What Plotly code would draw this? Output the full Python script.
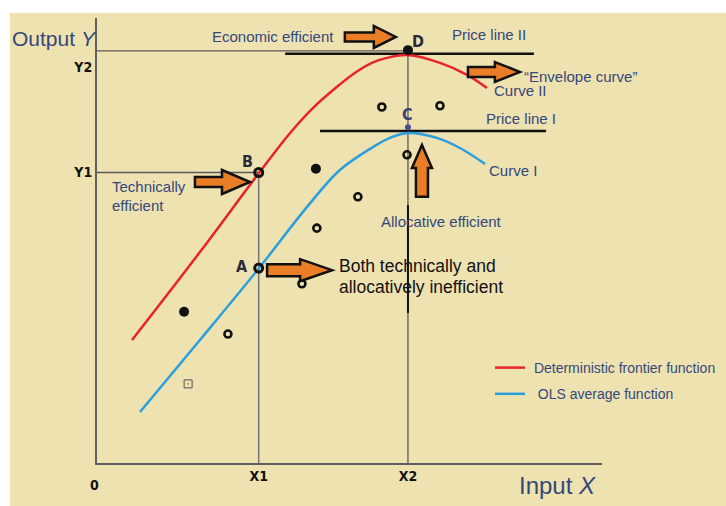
import plotly.graph_objects as go

# ---------------- data (conceptual units) ----------------
X_MAX, Y_MAX = 16.24, 10.8
X1, X2 = 5.2, 10.0
Y1, Y2 = 7.05, 10.0

x_tick_vals = [X1, X2]
x_tick_text = ["X1", "X2"]
y_tick_vals = [Y1, 9.62]
y_tick_text = ["Y1", "Y2"]

frontier_x = [1.126, 3.31, 5.2, 6.21, 6.95, 7.72, 8.30, 8.84, 9.42, 10.0, 11.03, 11.9, 12.54]
frontier_y = [2.985, 5.12, 7.03, 8.01, 8.62, 9.13, 9.47, 9.71, 9.85, 9.90, 9.71, 9.42, 9.10]

ols_x = [1.383, 3.31, 5.2, 6.75, 7.81, 8.88, 9.42, 10.0, 10.93, 11.67, 12.48]
ols_y = [1.238, 2.985, 4.72, 6.21, 7.11, 7.67, 7.89, 8.01, 7.89, 7.645, 7.257]

open_x = [4.21, 6.59, 7.07, 8.39, 9.16, 11.03, 9.97]
open_y = [3.13, 4.35, 5.70, 6.46, 8.64, 8.67, 7.48]
filled_x = [2.80, 7.04]
filled_y = [3.67, 7.14]
odd_x = [2.93]
odd_y = [1.92]

point_A = (X1, 4.73)
point_B = (X1, Y1)
point_C = (X2, 8.15)
point_D = (X2, 10.02)

price_I_x, price_I_y = [7.17, 14.44], 8.06
price_II_x, price_II_y = [6.05, 14.05], 9.93

# arrows: (tail, tip, position)
arrow_econ = (7.97, 9.61, 10.34)
arrow_env = (11.93, 13.60, 9.49)
arrow_tech = (3.15, 4.92, 6.82)
arrow_A = (5.47, 7.56, 4.68)
arrow_up = (6.46, 7.72, 10.45)

# ---------------- layout constants ----------------
OFF = 0                      # body margin removed by post_script
W, H = 726, 506
M_L, M_R, M_T, M_B = 97, 124, 18, 43
PW, PH = W - M_L - M_R, H - M_T - M_B
UX, UY = X_MAX / PW, Y_MAX / PH


def sx(p):  # screen px -> paper x
    return (p - OFF - M_L) / PW


def sy(p):  # screen px -> paper y
    return (H - M_B - (p - OFF)) / PH


BEIGE = "#EEE2B1"
NAVY = "#34487a"
RED = "#E8232B"
BLUE = "#2A9FDC"
ORANGE = "#E97E26"
FONT = "Liberation Sans, Arial, sans-serif"
NARROW = "Liberation Sans Narrow, DejaVu Sans Condensed, Arial Narrow, sans-serif"


def h_arrow(tail, tip, y, body, head, head_len):
    hx = tip - head_len * UX
    b, h = body * UY, head * UY
    pts = [(tail, y - b), (hx, y - b), (hx, y - h), (tip, y), (hx, y + h), (hx, y + b), (tail, y + b)]
    return "M " + " L ".join(f"{a:.4f},{c:.4f}" for a, c in pts) + " Z"


def v_arrow(tail, tip, x, body, head, head_len):
    hy = tip - head_len * UY
    b, h = body * UX, head * UX
    pts = [(x - b, tail), (x - b, hy), (x - h, hy), (x, tip), (x + h, hy), (x + b, hy), (x + b, tail)]
    return "M " + " L ".join(f"{a:.4f},{c:.4f}" for a, c in pts) + " Z"


fig = go.Figure()

# guide lines
guide = dict(color="#5a5a5a", width=1.3)
fig.add_trace(go.Scatter(x=[0, X2], y=[Y2, Y2], mode="lines", line=guide, showlegend=False, hoverinfo="skip"))
fig.add_trace(go.Scatter(x=[X2, X2], y=[0, Y2], mode="lines", line=guide, showlegend=False, hoverinfo="skip"))
fig.add_trace(go.Scatter(x=[X2, X2], y=[3.64, 6.26], mode="lines", line=dict(color="#111", width=2), showlegend=False, hoverinfo="skip"))
fig.add_trace(go.Scatter(x=[0, X1], y=[Y1, Y1], mode="lines", line=guide, showlegend=False, hoverinfo="skip"))
fig.add_trace(go.Scatter(x=[X1, X1], y=[0, Y1], mode="lines", line=dict(color="#777", width=1.5), showlegend=False, hoverinfo="skip"))

# price lines
fig.add_trace(go.Scatter(x=price_I_x, y=[price_I_y] * 2, mode="lines", line=dict(color="#111", width=2.5), showlegend=False, hoverinfo="skip"))
fig.add_trace(go.Scatter(x=price_II_x, y=[price_II_y] * 2, mode="lines", line=dict(color="#111", width=2.5), showlegend=False, hoverinfo="skip"))

# curves
fig.add_trace(go.Scatter(x=frontier_x, y=frontier_y, mode="lines", line=dict(color=RED, width=2.5, shape="spline"),
                         name="\u00a0Deterministic frontier function", legendgroup="a"))
fig.add_trace(go.Scatter(x=ols_x, y=ols_y, mode="lines", line=dict(color=BLUE, width=2.5, shape="spline"),
                         name="\u00a0\u00a0OLS average function", legendgroup="b"))

# observations
fig.add_trace(go.Scatter(x=open_x, y=open_y, mode="markers", cliponaxis=False,
                         marker=dict(symbol="circle-open", size=7, color="#111", line=dict(width=2.6)), showlegend=False))
fig.add_trace(go.Scatter(x=filled_x, y=filled_y, mode="markers",
                         marker=dict(symbol="circle", size=10, color="#111"), showlegend=False))
fig.add_trace(go.Scatter(x=odd_x, y=odd_y, mode="markers",
                         marker=dict(symbol="square-open-dot", size=8, color="#555", line=dict(width=1)), showlegend=False))
fig.add_trace(go.Scatter(x=[point_A[0], point_B[0]], y=[point_A[1], point_B[1]], mode="markers",
                         marker=dict(symbol="circle-open", size=8, color="#111", line=dict(width=3)), showlegend=False))
fig.add_trace(go.Scatter(x=[point_D[0]], y=[point_D[1]], mode="markers", cliponaxis=False,
                         marker=dict(symbol="circle", size=10, color="#111"), showlegend=False))
fig.add_trace(go.Scatter(x=[point_C[0]], y=[point_C[1]], mode="markers",
                         marker=dict(symbol="circle", size=6, color="#4b4a8c"), showlegend=False))

# arrows
arrow_style = dict(type="path", fillcolor=ORANGE, line=dict(color="#111", width=2.5), layer="above")
shapes = [
    dict(path=h_arrow(*arrow_econ, 4.5, 11, 22), **arrow_style),
    dict(path=h_arrow(*arrow_env, 5, 10, 25), **arrow_style),
    dict(path=h_arrow(*arrow_tech, 5, 12, 28), **arrow_style),
    dict(path=h_arrow(*arrow_A, 6, 11, 32), **arrow_style),
    dict(path=v_arrow(*arrow_up, 6, 10, 23), **arrow_style),
]
# white strips around the beige picture
shapes += [
    dict(type="rect", xref="paper", yref="paper", x0=-0.3, x1=1.3, y0=sy(13), y1=1.2,
         fillcolor="white", line=dict(width=0), layer="above"),
    dict(type="rect", xref="paper", yref="paper", x0=-0.3, x1=sx(10), y0=-0.3, y1=1.2,
         fillcolor="white", line=dict(width=0), layer="above"),
]


def ann(text, x, y, size=15, color=NAVY, xanchor="left", ref="x", family=FONT, **kw):
    d = dict(text=text, x=x, y=y, showarrow=False, xanchor=xanchor, yanchor="middle",
             font=dict(size=size, color=color, family=family), align="left", **kw)
    if ref == "paper":
        d.update(xref="paper", yref="paper")
    return d


annotations = [
    ann("Output <i>Y</i>", sx(10), sy(38), size=21, ref="paper"),
    ann("Input <i>X</i>", sx(517), sy(485), size=24, ref="paper"),
    ann("<b>0</b>", sx(94), sy(485), size=14, color="#111", xanchor="center", ref="paper", family=NARROW),
    ann("Economic efficient", 3.63, 10.34),
    ann("Price line II", 11.35, 10.39),
    ann("<b>D</b>", 10.32, 10.22, size=16, color="#2b2b3b", xanchor="center", family=NARROW),
    ann("“Envelope curve”", 13.67, 9.39),
    ann("Curve II", 12.70, 9.05),
    ann("<b>C</b>", 10.0, 8.45, size=16, color="#3b3f7a", xanchor="center", family=NARROW),
    ann("Price line I", 12.44, 8.37),
    ann("Curve I", 12.54, 7.11),
    ann("Allocative efficient", 9.07, 5.87),
    ann("<b>B</b>", 4.85, 7.31, size=16, color="#2b2b3b", xanchor="center", family=NARROW),
    ann("Technically", 0.42, 6.70),
    ann("efficient", 0.42, 6.26),
    ann("<b>A</b>", 4.66, 4.76, size=16, color="#2b2b3b", xanchor="center", family=NARROW),
    ann("Both technically and", 7.72, 4.78, size=17.5, color="#111"),
    ann("allocatively inefficient", 7.72, 4.27, size=17.5, color="#111"),
]

tickfont = dict(family=NARROW, size=14, color="#111", weight="bold")
fig.update_layout(
    width=W, height=H,
    margin=dict(l=M_L, r=M_R, t=M_T, b=M_B, autoexpand=False),
    paper_bgcolor=BEIGE, plot_bgcolor=BEIGE,
    xaxis=dict(range=[0, X_MAX], showgrid=False, zeroline=False, showline=True, linecolor="#5f5f5f", linewidth=2,
               tickvals=x_tick_vals, ticktext=x_tick_text, ticks="", tickfont=tickfont, ticklabelstandoff=-1),
    yaxis=dict(range=[0, Y_MAX], showgrid=False, zeroline=False, showline=True, linecolor="#5f5f5f", linewidth=2,
               tickvals=y_tick_vals, ticktext=y_tick_text, ticks="", tickfont=tickfont, ticklabelstandoff=0),
    showlegend=True,
    legend=dict(x=sx(490), y=sy(352), xanchor="left", yanchor="top",
                bgcolor="rgba(0,0,0,0)", font=dict(family=FONT, size=14, color=NAVY),
                traceorder="grouped", tracegroupgap=5),
    shapes=shapes,
    annotations=annotations,
)

fig.write_html("out.html", config={"displayModeBar": False},
               post_script="document.body.style.margin='0';document.body.style.overflow='hidden';")
